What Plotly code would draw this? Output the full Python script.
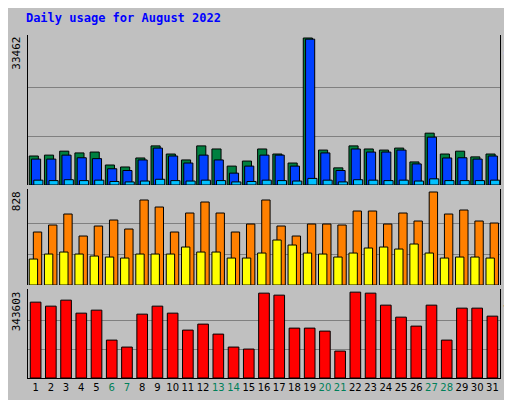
import plotly.graph_objects as go

days = list(range(1, 32))
weekends = [6, 7, 13, 14, 20, 21, 27, 28]
hits = [6600,6800,7700,7300,7500,4550,4100,6150,8900,7050,5700,8900,8200,4300,5450,8200,7050,5000,33462,7950,3900,8900,8200,7950,8400,5250,11800,7050,7700,6400,7050]
files = [5900,5900,6800,6200,6000,3700,3300,5700,8400,6600,5000,6800,5700,2700,4300,6800,6800,4300,33200,7300,3300,8200,7500,7500,7950,4800,10900,6150,6200,5900,6600]
pages = [1100,1000,1200,1000,1100,800,700,900,1300,1000,900,1100,1000,700,800,1100,1000,900,1500,1100,700,1200,1100,1000,1100,900,1400,1000,1000,1000,1100]
visits = [477,540,639,441,531,585,504,765,702,477,648,747,648,477,549,765,531,441,549,549,540,666,666,549,648,576,837,639,675,576,558]
sites = [234,279,297,279,261,252,243,279,279,279,342,297,297,243,243,288,405,360,288,279,252,288,333,342,324,369,288,243,252,252,243]
kbytes = [303600,287600,311600,259600,271600,151700,123800,255600,287600,259600,191700,215700,175700,123800,115800,339600,331600,199700,199700,187700,107800,343603,339600,291600,243600,207700,291600,151700,279600,279600,247600]

BG = "#C0C0C0"
fig = go.Figure()
def bar(y, color, yaxis, offset, width):
    fig.add_trace(go.Bar(x=days, y=y, marker=dict(color=color, line=dict(color="black", width=1)),
                         offset=offset, width=width, yaxis=yaxis, xaxis="x", showlegend=False))
bar(hits, "#008040", "y", -0.42, 0.6)
bar(files, "#0040FF", "y", -0.27, 0.6)
bar(pages, "#00C0FF", "y", -0.12, 0.6)
bar(visits, "#FF8000", "y2", -0.15, 0.55)
bar(sites, "#FFFF00", "y2", -0.42, 0.55)
bar(kbytes, "#FF0000", "y3", -0.35, 0.7)

ticktext = [f"<span style='color:{'#00805A' if d in weekends else 'black'}'>{d}</span>" for d in days]
fig.update_layout(
    width=512, height=400, paper_bgcolor=BG, plot_bgcolor=BG, barmode="overlay",
    margin=dict(l=20, r=20, t=27, b=30, autoexpand=False),
    font=dict(family="DejaVu Sans Mono", size=11, color="black"),
    title=dict(text="<b>Daily usage for August 2022</b>", x=0.035, y=0.985, xanchor="left", yanchor="top",
               automargin=False,
               font=dict(family="DejaVu Sans Mono", size=12, color="#0000FF")),
    xaxis=dict(range=[0.5, 31.5], tickvals=days, ticktext=ticktext, ticks="", showgrid=False,
               tickangle=0, automargin=False,
               anchor="y3", zeroline=False, tickfont=dict(family="DejaVu Sans", size=10)),
    yaxis=dict(domain=[0.5627, 1], range=[0, 34145], tickvals=[33462/3, 2*33462/3], showticklabels=False,
               automargin=False,
               gridcolor="#808080", zeroline=False, showline=True, linecolor="black", mirror=True),
    yaxis2=dict(domain=[0.271, 0.551], range=[0, 864], tickvals=[276, 552], showticklabels=False,
                automargin=False,
                gridcolor="#808080", zeroline=False, showline=True, linecolor="black", mirror=True),
    yaxis3=dict(domain=[0, 0.259], range=[0, 355590], tickvals=[114534, 229068], showticklabels=False,
                automargin=False,
                gridcolor="#808080", zeroline=False, showline=True, linecolor="black", mirror=True),
)
fig.update_xaxes(showline=True, linecolor="black", mirror=False)
def lab(text, yref, yval, x, angle, anchor):
    fig.add_annotation(text=text, xref="paper", yref=yref, x=x, y=yval, textangle=angle, showarrow=False,
                       xanchor="center", yanchor=anchor, font=dict(family="DejaVu Sans Mono", size=11))
lab("33462", "y domain", 1, -0.025, -90, "top")
lab("828", "y2 domain", 1, -0.025, -90, "top")
lab("343603", "y3 domain", 1, -0.025, -90, "top")
lab("<span style='color:#00C0FF'>Pages</span> / <span style='color:#0040FF'>Files</span> / <span style='color:#008040'>Hits</span>", "y domain", 1, 1.02, 90, "top")
lab("<span style='color:#FF8000'>Sites</span> / <span style='color:#FFD000'>Visits</span>", "y2 domain", 1, 1.02, 90, "top")
lab("<span style='color:#FF0000'>KBytes</span>", "y3 domain", 1, 1.02, 90, "top")
fig.write_html("out.html")
